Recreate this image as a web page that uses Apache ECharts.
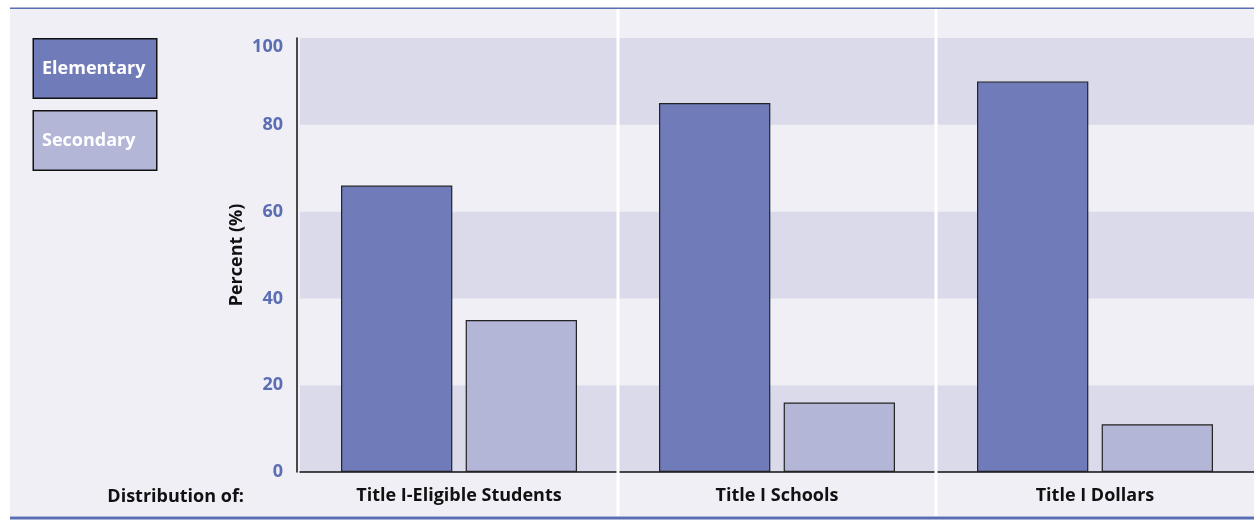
<!DOCTYPE html>
<html>
<head>
<meta charset="utf-8">
<script src="https://cdn.jsdelivr.net/npm/echarts@6/dist/echarts.min.js"></script>
<style>
html,body{margin:0;padding:0;background:#ffffff;}
#chart{width:1254px;height:521px;}
</style>
</head>
<body>
<div id="chart"></div>
<script>
const categories = ['Title I-Eligible Students', 'Title I Schools', 'Title I Dollars'];
const elementary = [66, 85, 90];
const secondary = [35, 16, 11];
const yTicks = [0, 20, 40, 60, 80, 100];
const seriesNames = ['Elementary', 'Secondary'];

const FONT = '"Open Sans", "Noto Sans", sans-serif';
const C_ELEM = '#707cb9';
const C_SEC = '#b3b6d7';
const C_BAND = '#dadaeb';
const C_BG = '#f0eff6';
const C_BLUE = '#5b6db3';

const chart = echarts.init(document.getElementById('chart'), null, {renderer: 'canvas'});

const baseGraphic = [
  {type: 'rect', z: -10, silent: true, shape: {x: 10, y: 9, width: 1244, height: 507}, style: {fill: C_BG}},
  {type: 'rect', z: -9, silent: true, shape: {x: 10, y: 7.5, width: 1244, height: 1.5}, style: {fill: C_BLUE}},
  {type: 'rect', z: -9, silent: true, shape: {x: 10, y: 516.5, width: 1244, height: 3}, style: {fill: C_BLUE}},
  {type: 'text', z: 10, silent: true,
    style: {x: 244, y: 497, text: 'Distribution of:', fill: '#111', font: 'bold 18px ' + FONT,
      textAlign: 'right', textVerticalAlign: 'middle'}}
];

const option = {
  animation: false,
  backgroundColor: '#ffffff',
  textStyle: {fontFamily: FONT},
  graphic: baseGraphic,
  legend: {
    orient: 'vertical',
    left: 24,
    top: 33,
    itemGap: 11,
    icon: 'none',
    itemWidth: 0,
    itemHeight: 0,
    selectedMode: false,
    data: [
      {name: seriesNames[0], textStyle: {backgroundColor: C_ELEM}},
      {name: seriesNames[1], textStyle: {backgroundColor: C_SEC}}
    ],
    textStyle: {
      color: '#ffffff', fontWeight: 'bold', fontSize: 18, fontFamily: FONT,
      width: 105, height: 58, lineHeight: 58, padding: [0, 9, 0, 8],
      borderColor: '#111', borderWidth: 1.5, align: 'left'
    }
  },
  grid: {left: 300, right: -4, top: 38, bottom: 49, containLabel: false},
  xAxis: {
    type: 'category',
    data: categories,
    boundaryGap: true,
    axisLine: {show: true, lineStyle: {color: '#111', width: 1.5}},
    axisTick: {show: false},
    axisLabel: {color: '#111', fontWeight: 'bold', fontSize: 18, fontFamily: FONT, margin: 15, interval: 0},
    splitLine: {show: false}
  },
  yAxis: {
    type: 'value',
    min: 0, max: 100, interval: 20,
    offset: 3,
    name: 'Percent (%)',
    nameLocation: 'middle',
    nameGap: 51,
    nameMoveOverlap: false,
    nameRotate: 90,
    nameTextStyle: {color: '#111', fontWeight: 'bold', fontSize: 18, fontFamily: FONT},
    axisLine: {show: true, lineStyle: {color: '#111', width: 1.5}},
    axisTick: {show: false},
    axisLabel: {
      color: C_BLUE, fontWeight: 'bold', fontSize: 18, fontFamily: FONT, margin: 14,
      verticalAlignMaxLabel: 'top',
      formatter: function (v) { return yTicks.indexOf(v) >= 0 ? String(v) : ''; }
    },
    splitLine: {show: false},
    splitArea: {show: true, areaStyle: {color: [C_BAND, C_BG]}}
  },
  series: [
    {
      name: seriesNames[0], type: 'bar', data: elementary, z: 3,
      barWidth: '35%', barGap: '12%',
      itemStyle: {color: C_ELEM, borderColor: '#222', borderWidth: 1.2}
    },
    {
      name: seriesNames[1], type: 'bar', data: secondary, z: 3,
      barWidth: '35%', barGap: '12%',
      itemStyle: {color: C_SEC, borderColor: '#222', borderWidth: 1.2}
    }
  ]
};

chart.setOption(option);

// White separators between category groups, placed through the axis scale
const p0 = chart.convertToPixel({xAxisIndex: 0}, 0);
const p1 = chart.convertToPixel({xAxisIndex: 0}, 1);
const step = p1 - p0;
const seps = [];
for (let i = 0; i < categories.length - 1; i++) {
  const x = Math.round(chart.convertToPixel({xAxisIndex: 0}, i) + step / 2);
  seps.push({type: 'rect', z: 1, silent: true, shape: {x: x - 1.5, y: 9, width: 3, height: 507}, style: {fill: '#ffffff'}});
}
chart.setOption({graphic: baseGraphic.concat(seps)}, {replaceMerge: ['graphic']});
</script>
</body>
</html>
